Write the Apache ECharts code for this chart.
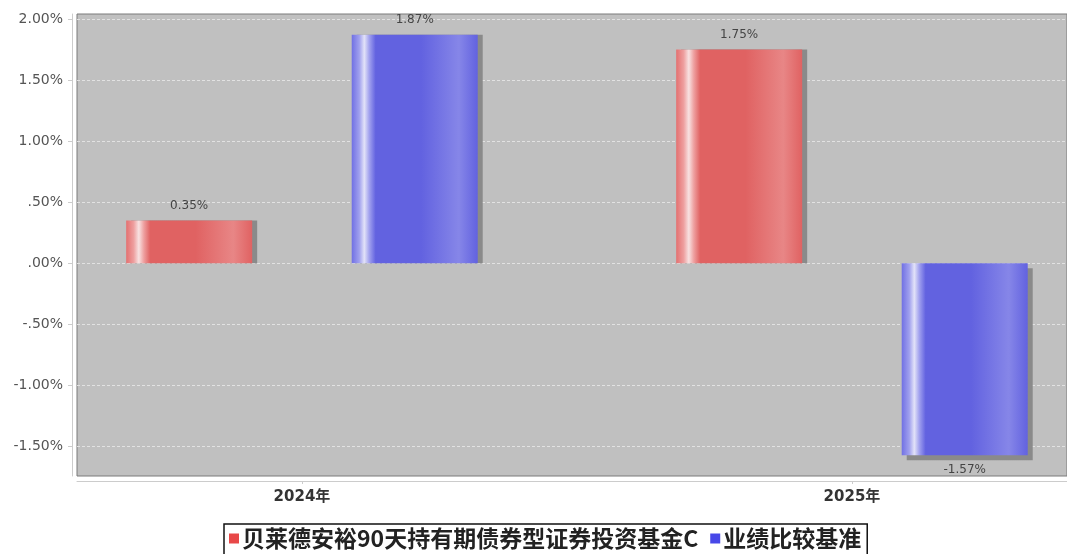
<!DOCTYPE html>
<html>
<head>
<meta charset="utf-8">
<script src="https://cdn.jsdelivr.net/npm/echarts@6/dist/echarts.min.js"></script>
<style>html,body{margin:0;padding:0;background:#fff;}#c{width:1067px;height:554px;}</style>
</head>
<body>
<div id="c"></div>
<script>
var categories = ['2024年', '2025年'];
var seriesNames = ['贝莱德安裕90天持有期债券型证券投资基金C', '业绩比较基准'];
var fundValues = [0.35, 1.75];
var benchValues = [1.87, -1.57];
var yTickValues = [-1.5, -1.0, -0.5, 0, 0.5, 1.0, 1.5, 2.0];

function grad(c) {
  return {
    type: 'linear', x: 0, y: 0, x2: 1, y2: 0,
    colorStops: [
      {offset: 0, color: c[0]},
      {offset: 0.06, color: c[1]},
      {offset: 0.1, color: c[2]},
      {offset: 0.14, color: c[1]},
      {offset: 0.19, color: c[3]},
      {offset: 0.55, color: c[3]},
      {offset: 0.85, color: c[4]},
      {offset: 1, color: c[3]}
    ]
  };
}
var redGrad = grad(['#e47070', '#eea0a0', '#f8e2e2', '#e06262', '#e88686']);
var blueGrad = grad(['#7070e4', '#a0a0ee', '#e2e2f8', '#6262e0', '#8686e8']);

function toData(vals) {
  return vals.map(function (v, i) {
    return {
      value: [i, v],
      label: {position: v < 0 ? 'bottom' : 'top'},
      itemStyle: {shadowOffsetY: v < 0 ? 5 : 0}
    };
  });
}
function pctFmt(v) {
  var s = Number(v).toFixed(2);
  s = s.replace(/^(-?)0\./, '$1.');
  return s + '%';
}

var chart = echarts.init(document.getElementById('c'));
var barCommon = {
  type: 'bar',
  barWidth: 126,
  barGap: '79%',
  label: {
    show: true,
    distance: 9,
    fontFamily: 'DejaVu Sans',
    fontSize: 12,
    color: '#444',
    formatter: function (p) { return p.value[1].toFixed(2) + '%'; }
  },
  emphasis: {disabled: true}
};
chart.setOption({
  animation: false,
  backgroundColor: '#ffffff',
  grid: {
    left: 77, right: 0, top: 14, bottom: 78,
    show: true,
    backgroundColor: '#c0c0c0',
    borderColor: '#7a7a7a',
    borderWidth: 1
  },
  legend: {
    left: 224, top: 524,
    orient: 'horizontal',
    borderColor: '#111',
    borderWidth: 1.5,
    padding: [3, 6, 8, 5],
    itemWidth: 10, itemHeight: 10, itemGap: 12,
    icon: 'rect',
    textStyle: {fontFamily: '"Noto Sans CJK SC", "DejaVu Sans"', fontSize: 23, fontWeight: 'bold', color: '#222', padding: [0, 0, 0, -2]},
    data: [
      {name: seriesNames[0], itemStyle: {color: '#e84848'}},
      {name: seriesNames[1], itemStyle: {color: '#4848e8'}}
    ]
  },
  xAxis: {
    type: 'value',
    min: -0.409, max: 1.391,
    offset: 5,
    axisLine: {show: true, onZero: false, lineStyle: {color: '#cccccc', width: 1}},
    axisTick: {show: true, length: 3, customValues: [0, 1], lineStyle: {color: '#cccccc'}},
    minorTick: {show: false},
    axisLabel: {
      customValues: [0, 1],
      margin: 9,
      fontFamily: '"DejaVu Sans", "Noto Sans CJK SC"',
      fontSize: 15, fontWeight: 'bold', color: '#333',
      formatter: function (v) { return categories[Math.round(v)]; }
    },
    splitLine: {show: false},
    minorSplitLine: {show: false},
    splitArea: {show: false}
  },
  yAxis: {
    type: 'value',
    min: -1.74, max: 2.04,
    offset: 5,
    axisLine: {show: true, onZero: false, lineStyle: {color: '#cccccc', width: 1}},
    axisTick: {show: true, length: 4, customValues: yTickValues, lineStyle: {color: '#cccccc'}},
    axisLabel: {
      customValues: yTickValues,
      margin: 9,
      fontFamily: 'DejaVu Sans',
      fontSize: 14, color: '#555',
      formatter: pctFmt
    },
    splitLine: {show: true, lineStyle: {color: '#e2e2e2', type: [3, 2], width: 1}}
  },
  series: [
    Object.assign({}, barCommon, {
      name: seriesNames[0],
      data: toData(fundValues),
      itemStyle: {color: redGrad, shadowColor: '#8a8a8a', shadowOffsetX: 5, shadowBlur: 0}
    }),
    Object.assign({}, barCommon, {
      name: seriesNames[1],
      data: toData(benchValues),
      itemStyle: {color: blueGrad, shadowColor: '#8a8a8a', shadowOffsetX: 5, shadowBlur: 0}
    })
  ]
});
</script>
</body>
</html>
